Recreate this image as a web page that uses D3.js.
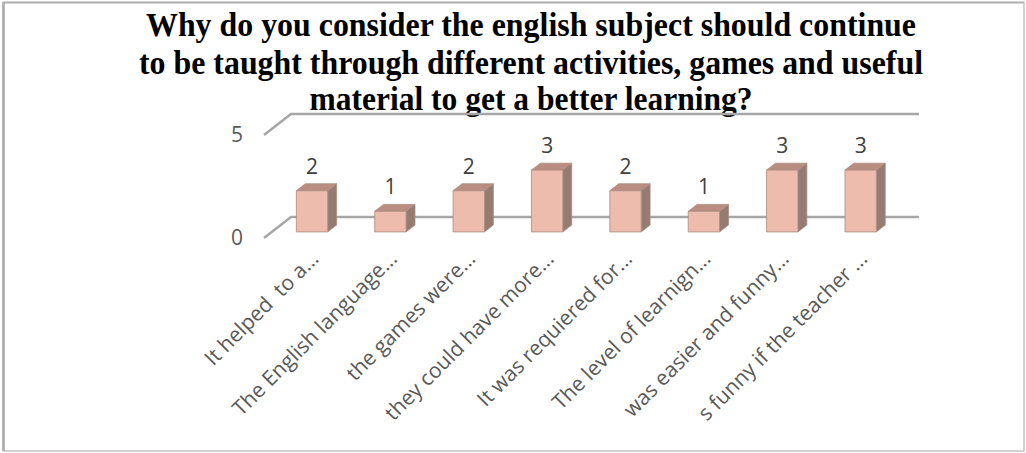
<!DOCTYPE html>
<html>
<head>
<meta charset="utf-8">
<script src="https://cdn.jsdelivr.net/npm/d3@7"></script>
<style>
  html, body { margin: 0; padding: 0; background: #fff; }
  svg { display: block; }
  text { white-space: pre; }
</style>
</head>
<body>
<svg id="chart" width="1026" height="453"></svg>
<script>
// Survey answers and their counts
const categories = [
  "It helped  to a...",
  "The English language...",
  "the games were...",
  "they could have more...",
  "It was requiered for...",
  "The level of learnign...",
  "was easier and funny...",
  "s funny if the teacher ..."
];
const counts = [2, 1, 2, 3, 2, 1, 3, 3];
const yTicks = [0, 5];
const titleLines = [
  "Why do you consider the english subject should continue",
  "to be taught through different activities, games and useful",
  "material to get a better learning?"
];

const svg = d3.select("#chart");

// Frame
svg.append("rect")
  .attr("x", 3.5).attr("y", 2.5)
  .attr("width", 1020.5).attr("height", 448.5)
  .attr("fill", "#fff")
  .attr("stroke", "#c4c4c4").attr("stroke-width", 1.5);
svg.append("line")
  .attr("x1", 3.5).attr("x2", 3.5).attr("y1", 2).attr("y2", 451)
  .attr("stroke", "#a8a8a8").attr("stroke-width", 2.5);
svg.append("line")
  .attr("x1", 3).attr("x2", 1024).attr("y1", 2.5).attr("y2", 2.5)
  .attr("stroke", "#b4b4b4").attr("stroke-width", 2);

// Title (condensed bold serif)
const titleWidths = [770, 784, 443];
const titleBase = [36, 74, 110];
svg.append("g").selectAll("text")
  .data(titleLines)
  .join("text")
  .attr("x", 531)
  .attr("y", (d, i) => titleBase[i])
  .attr("text-anchor", "middle")
  .attr("font-family", "'Liberation Serif', 'Times New Roman', serif")
  .attr("font-weight", "bold")
  .attr("font-size", 34)
  .attr("fill", "#000")
  .attr("textLength", (d, i) => titleWidths[i])
  .attr("lengthAdjust", "spacingAndGlyphs")
  .text(d => d);

// Oblique projection of the 3-D plot box
const depthX = 27, depthY = -21;
const x = d3.scaleBand()
  .domain(categories)
  .range([265, 892])
  .paddingInner(0.6)
  .paddingOuter(0.3);
const y = d3.scaleLinear().domain([0, 5]).range([238, 135]);
const px = (xv, d) => xv + d * depthX;
const py = (yv, d) => yv + d * depthY;

const gridColor = "#a6a6a6";
const xStart = x.range()[0] - 1, xEnd = x.range()[1];

// Gridlines: side wall diagonal + back wall horizontal
const grid = svg.append("g");
yTicks.forEach(t => {
  grid.append("path")
    .attr("d", d3.line()([
      [xStart, y(t)],
      [px(xStart, 1), py(y(t), 1)],
      [px(xEnd, 1), py(y(t), 1)]
    ]))
    .attr("fill", "none")
    .attr("stroke", gridColor)
    .attr("stroke-width", 2.5);
});

// Value axis labels
svg.append("g").selectAll("text")
  .data(yTicks)
  .join("text")
  .attr("x", 243)
  .attr("y", t => y(t) + 1)
  .attr("text-anchor", "end")
  .attr("dominant-baseline", "middle")
  .attr("font-family", "'Open Sans', sans-serif")
  .attr("font-size", 21)
  .attr("fill", "#595959")
  .text(t => t);

// Bars as boxes: front, top, right side
const d0 = 0.29, d1 = 0.62;
const colFront = "#edbcac", colTop = "#b98e80", colSide = "#957b71";
const edge = "#a98b80";
const bars = svg.append("g").selectAll("g")
  .data(categories.map((c, i) => ({ c, v: counts[i] })))
  .join("g");

bars.each(function (d) {
  const g = d3.select(this);
  const xl = x(d.c), xr = x(d.c) + x.bandwidth();
  const yb = y(0), yt = y(d.v);
  const P = (xx, yy, dd) => [px(xx, dd), py(yy, dd)];
  const poly = pts => d3.line()(pts) + "Z";
  // right side face
  g.append("path")
    .attr("d", poly([P(xr, yb, d0), P(xr, yb, d1), P(xr, yt, d1), P(xr, yt, d0)]))
    .attr("fill", colSide).attr("stroke", edge).attr("stroke-width", 0.8);
  // top face
  g.append("path")
    .attr("d", poly([P(xl, yt, d0), P(xr, yt, d0), P(xr, yt, d1), P(xl, yt, d1)]))
    .attr("fill", colTop).attr("stroke", edge).attr("stroke-width", 0.8);
  // front face
  g.append("path")
    .attr("d", poly([P(xl, yb, d0), P(xr, yb, d0), P(xr, yt, d0), P(xl, yt, d0)]))
    .attr("fill", colFront).attr("stroke", edge).attr("stroke-width", 0.8);
  // value label
  g.append("text")
    .attr("x", px((xl + xr) / 2, d0))
    .attr("y", py(yt, d1) - 10)
    .attr("text-anchor", "middle")
    .attr("font-family", "'Open Sans', sans-serif")
    .attr("font-size", 21)
    .attr("fill", "#404040")
    .text(d.v);
});

// Category labels, rotated
svg.append("g").selectAll("text")
  .data(categories)
  .join("text")
  .attr("transform", c => `translate(${px(x(c) + x.bandwidth() / 2, d0) + 8},260) rotate(-45)`)
  .attr("text-anchor", "end")
  .attr("font-family", "'Open Sans', sans-serif")
  .attr("font-size", 21)
  .attr("fill", "#595959")
  .text(c => c);
</script>
</body>
</html>
